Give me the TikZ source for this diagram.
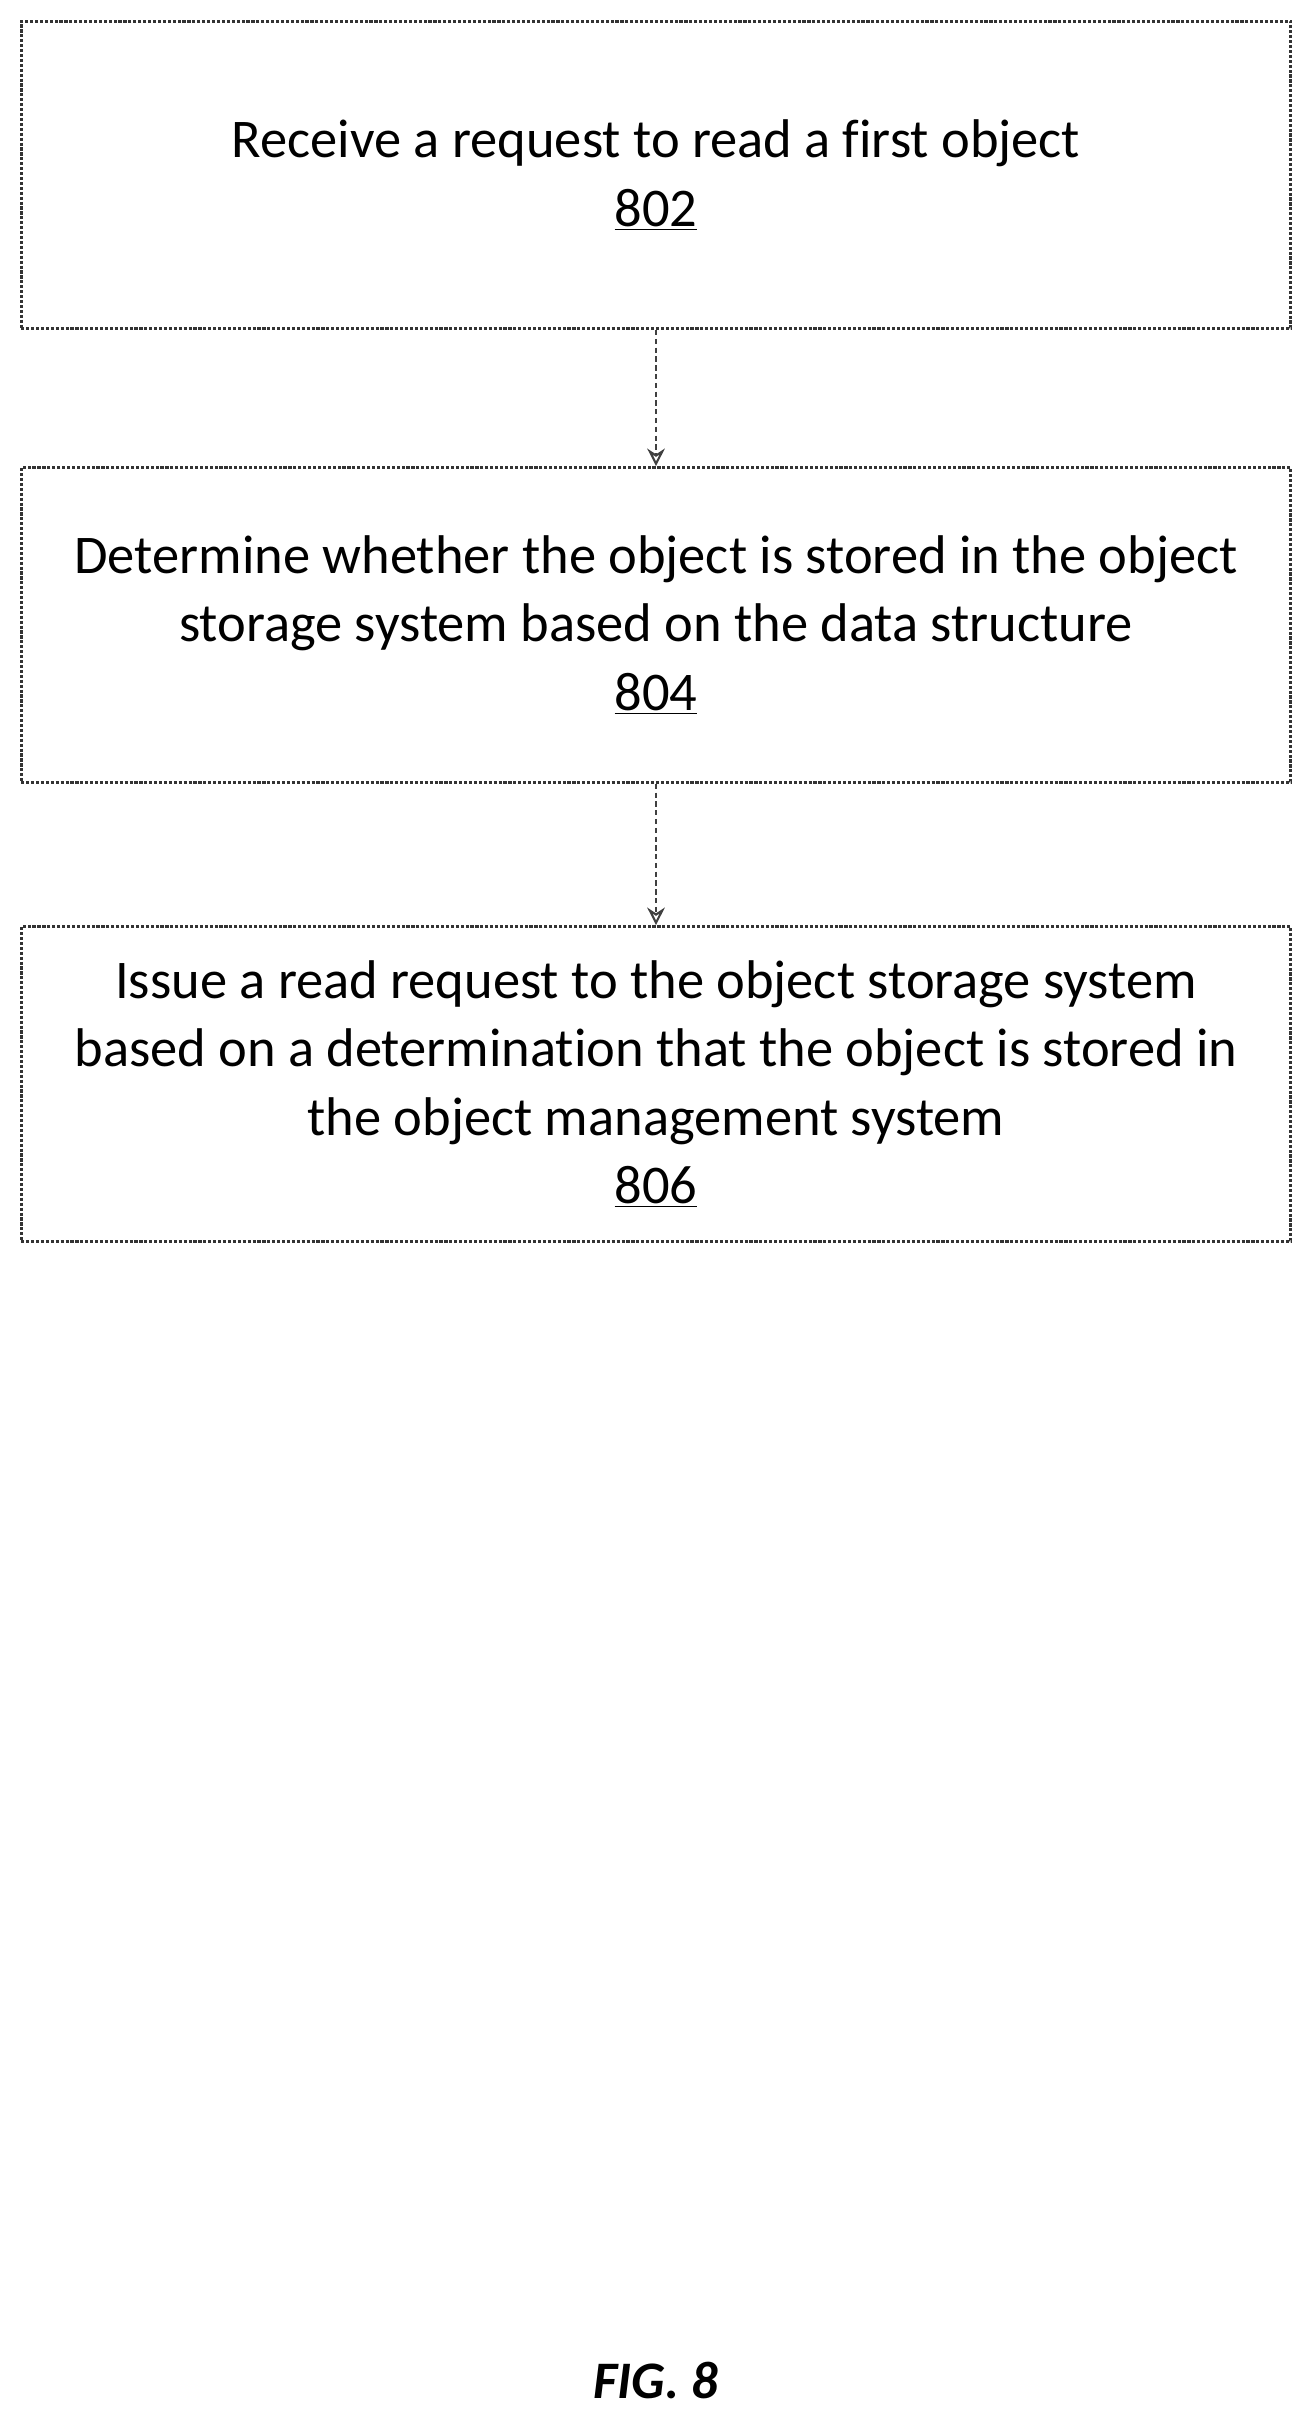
\documentclass[tikz,border=0pt]{standalone}
\usepackage{fontspec}
\setmainfont{Carlito}[Ligatures={NoCommon}]
\usetikzlibrary{positioning,arrows.meta}
\tikzset{
    stepbox/.style={draw=black!80, line width=1.8pt, densely dotted, minimum width=25.39cm,
        align=center, font=\fontsize{31}{39}\selectfont, inner sep=0pt},
    flow/.style={draw=black!75, line width=1.2pt, densely dashed, -{Stealth[open,length=10pt,width=10pt]}}
}
\begin{document}
\begin{tikzpicture}
    \useasboundingbox (0,0) rectangle (26.28,-48.4);
    \node[stepbox, minimum height=6.14cm] (s802) at (13.12,-3.5) {Receive a request to read a first object\\\underline{802}};
    \node[stepbox, minimum height=6.29cm] (s804) at (13.12,-12.5) {Determine whether the object is stored in the object\\storage system based on the data structure\\\underline{804}};
    \node[stepbox, minimum height=6.29cm] (s806) at (13.12,-21.68) {Issue a read request to the object storage system\\based on a determination that the object is stored in\\the object management system\\\underline{806}};
    \node[font=\fontsize{30}{34}\selectfont\itshape\bfseries] (fig) at (13.12,-47.6) {FIG. 8};

    \draw[flow] (s802) -- (s804);
    \draw[flow] (s804) -- (s806);
\end{tikzpicture}
\end{document}
